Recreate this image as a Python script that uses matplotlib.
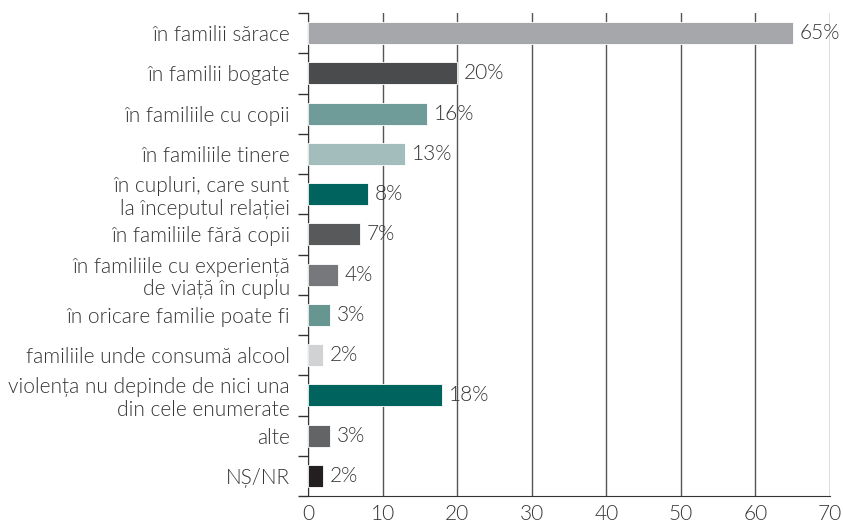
import matplotlib
matplotlib.use("Agg")
import matplotlib.pyplot as plt
import numpy as np

categories = [
    "în familii sărace",
    "în familii bogate",
    "în familiile cu copii",
    "în familiile tinere",
    "în cupluri, care sunt\nla începutul relației",
    "în familiile fără copii",
    "în familiile cu experiență\nde viață în cuplu",
    "în oricare familie poate fi",
    "familiile unde consumă alcool",
    "violența nu depinde de nici una\ndin cele enumerate",
    "alte",
    "NȘ/NR",
]
values = [65, 20, 16, 13, 8, 7, 4, 3, 2, 18, 3, 2]
colors = ["#a6a7aa", "#4a4b4d", "#6f9c99", "#a3bdbc", "#00635d", "#58595b",
          "#77787b", "#66968f", "#d1d2d4", "#00635d", "#636466", "#231f20"]
x_ticks = [0, 10, 20, 30, 40, 50, 60, 70]

plt.rcParams["font.family"] = ["Lato", "DejaVu Sans"]
text_color = "#353535"
fs = 15
fw = 300

fig = plt.figure(figsize=(8.43, 5.23), dpi=100)
ax = fig.add_axes([308 / 843, 27 / 523, 522 / 843, 483 / 523])

y = np.arange(len(categories))
ax.barh(y, values, height=0.55, color=colors, edgecolor="white", linewidth=0.6, zorder=3)
for yi, v in zip(y, values):
    ax.text(v + 0.9, yi, f"{v}%", va="center", ha="left", fontsize=fs,
            fontweight=fw, color=text_color, zorder=4)

ax.set_xlim(0, 70)
ax.set_ylim(len(categories) - 0.5, -0.5)
ax.set_xticks(x_ticks)
ax.set_xticklabels([str(t) for t in x_ticks], fontsize=fs, fontweight=fw, color=text_color)
ax.set_yticks(y)
ax.set_yticklabels(categories, fontsize=fs, fontweight=fw, color=text_color,
                   linespacing=1.15)
ax.set_yticks(np.arange(len(categories) + 1) - 0.5, minor=True)
ax.tick_params(axis="y", which="major", length=0, pad=13)
ax.tick_params(axis="y", which="minor", length=7, width=1, color="#333333", direction="out")
ax.tick_params(axis="x", length=0, pad=6)

ax.grid(axis="x", color="#555555", linewidth=1, zorder=0)
ax.set_axisbelow(True)
for s in ["top", "right"]:
    ax.spines[s].set_visible(False)
ax.spines["left"].set_color("#333333")
ax.spines["bottom"].set_color("#333333")

fig.savefig("out.png", dpi=100)
